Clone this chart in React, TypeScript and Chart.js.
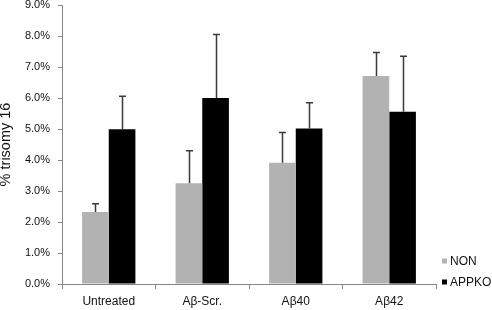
import React, { useEffect, useRef } from "react";
import { Chart, registerables } from "chart.js";

Chart.register(...registerables);

const categories = ["Untreated", "Aβ-Scr.", "Aβ40", "Aβ42"];
const seriesNames = ["NON", "APPKO"];
const nonValues = [2.32, 3.25, 3.91, 6.71];
const appkoValues = [4.99, 6.0, 5.02, 5.56];
const nonErrors = [0.27, 1.05, 0.98, 0.76];
const appkoErrors = [1.07, 2.05, 0.83, 1.79];
const seriesColors = ["#b2b2b2", "#000000"];
const yTicks = [0, 1, 2, 3, 4, 5, 6, 7, 8, 9];
const yTitle = "% trisomy 16";

const FONT = "'Liberation Sans', Arial, sans-serif";
const AXIS_COLOR = "#868686";

const errorBarPlugin = {
  id: "errorBars",
  afterDatasetsDraw(chart: any) {
    const ctx = chart.ctx;
    const yScale = chart.scales.y;
    chart.data.datasets.forEach((ds: any, i: number) => {
      const meta = chart.getDatasetMeta(i);
      meta.data.forEach((bar: any, j: number) => {
        const v = ds.data[j];
        const e = ds.errors[j];
        const yTop = yScale.getPixelForValue(v + e);
        const x = Math.round(bar.x) + 0.5;
        ctx.save();
        ctx.strokeStyle = "#3a3a3a";
        ctx.lineWidth = 1.5;
        ctx.beginPath();
        ctx.moveTo(x, bar.y);
        ctx.lineTo(x, yTop);
        ctx.moveTo(x - 3.5, yTop);
        ctx.lineTo(x + 3.5, yTop);
        ctx.stroke();
        ctx.restore();
      });
    });
  },
};

const legendPlugin = {
  id: "customLegend",
  afterDraw(chart: any) {
    const ctx = chart.ctx;
    const area = chart.chartArea;
    const x = area.right + 6;
    const n = chart.data.datasets.length;
    chart.data.datasets.forEach((ds: any, i: number) => {
      const y = area.bottom - 2 - (n - 1 - i) * 21;
      ctx.save();
      ctx.fillStyle = ds.backgroundColor;
      ctx.fillRect(x, y - 2.5, 5, 5);
      ctx.fillStyle = "#111";
      ctx.font = `12px ${FONT}`;
      ctx.textBaseline = "middle";
      ctx.textAlign = "left";
      ctx.fillText(ds.label, x + 8, y + 0.5);
      ctx.restore();
    });
  },
};

export default function App() {
  const canvasRef = useRef<HTMLCanvasElement | null>(null);

  useEffect(() => {
    if (!canvasRef.current) return;
    const chart = new Chart(canvasRef.current, {
      type: "bar",
      data: {
        labels: categories,
        datasets: [
          {
            label: seriesNames[0],
            data: nonValues,
            errors: nonErrors,
            backgroundColor: seriesColors[0],
            borderWidth: 0,
            categoryPercentage: 0.57,
            barPercentage: 1.0,
          } as any,
          {
            label: seriesNames[1],
            data: appkoValues,
            errors: appkoErrors,
            backgroundColor: seriesColors[1],
            borderWidth: 0,
            categoryPercentage: 0.57,
            barPercentage: 1.0,
          } as any,
        ],
      },
      options: {
        animation: false,
        responsive: false,
        maintainAspectRatio: false,
        layout: { padding: { left: 0, right: 56, top: 0, bottom: 0 } },
        plugins: {
          legend: { display: false },
          tooltip: { enabled: false },
        },
        scales: {
          x: {
            offset: true,
            grid: {
              display: true,
              offset: true,
              drawOnChartArea: false,
              drawTicks: true,
              tickLength: 5,
              color: AXIS_COLOR,
            },
            border: { display: true, color: AXIS_COLOR, width: 1 },
            ticks: {
              color: "#111",
              font: { family: FONT, size: 12 },
              padding: 5,
              maxRotation: 0,
            },
            afterFit(scale: any) {
              scale.height = 26;
              scale.paddingLeft = 0;
              scale.paddingRight = 0;
            },
          },
          y: {
            min: 0,
            max: 9,
            afterBuildTicks(scale: any) {
              scale.ticks = yTicks.map((v) => ({ value: v }));
            },
            grid: {
              display: true,
              drawOnChartArea: false,
              drawTicks: true,
              tickLength: 4,
              color: AXIS_COLOR,
            },
            border: { display: true, color: AXIS_COLOR, width: 1 },
            ticks: {
              color: "#111",
              font: { family: FONT, size: 11 },
              padding: 8,
              callback: (v: any) => Number(v).toFixed(1) + "%",
            },
            title: {
              display: true,
              text: yTitle,
              color: "#111",
              font: { family: FONT, size: 14.5 },
              padding: { top: -3, bottom: 0 },
            },
            afterFit(scale: any) {
              scale.width = 62;
              scale.paddingTop = 5;
              scale.paddingBottom = 0;
            },
          },
        },
      } as any,
      plugins: [errorBarPlugin, legendPlugin],
    });
    return () => chart.destroy();
  }, []);

  return (
    <div style={{ position: "fixed", left: 0, top: 0, width: 492, height: 310, background: "#fff" }}>
      <canvas ref={canvasRef} width={492} height={310} style={{ width: 492, height: 310, display: "block" }} />
    </div>
  );
}
